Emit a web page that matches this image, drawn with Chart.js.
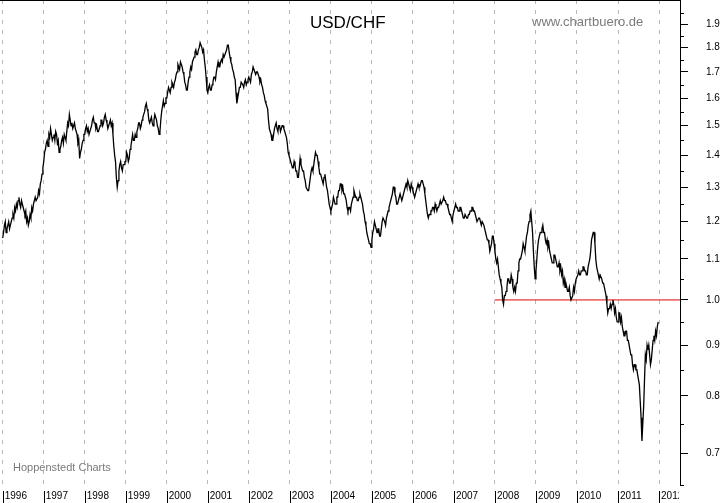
<!DOCTYPE html>
<html><head><meta charset="utf-8">
<script src="https://cdn.jsdelivr.net/npm/chart.js@4.4.1/dist/chart.umd.min.js"></script>
<style>html,body{margin:0;padding:0;background:#fff;}canvas{display:block;}</style>
</head><body>
<canvas id="c" width="723" height="503"></canvas>
<script>
// ---- texts ----
const chartTitle = 'USD/CHF';
const sourceText = 'www.chartbuero.de';
const footerText = 'Hoppenstedt Charts';

// ---- axis ticks ----
const yearTicks = [1996,1997,1998,1999,2000,2001,2002,2003,2004,2005,2006,2007,2008,2009,2010,2011,2012];
const yMajorTicks = [0.7,0.8,0.9,1.0,1.1,1.2,1.3,1.4,1.5,1.6,1.7,1.8,1.9];
const yMinorTicks = [0.65,0.75,0.85,0.95,1.05,1.15,1.25,1.35,1.45,1.55,1.65,1.75,1.85,1.95];

// ---- support line (horizontal at 1.0 from 2008) ----
const supportLevel = [1.0];
const supportFromYear = [2008.0];

// ---- USD/CHF, roughly weekly readings, spread evenly over each year ----
const y1996 = [1.155,1.17,1.19,1.20,1.17,1.18,1.19,1.20,1.18,1.19,1.20,1.21,1.22,1.21,1.24,1.23,1.25,1.24,1.26,1.27,1.25,1.24,1.26,1.25,1.24,1.23,1.22,1.23,1.20,1.21,1.19,1.20,1.22,1.21,1.24,1.23,1.25,1.26,1.27,1.26,1.26,1.27,1.29,1.28,1.31,1.32,1.34,1.36];
const y1997 = [1.38,1.41,1.42,1.44,1.45,1.43,1.47,1.46,1.49,1.47,1.45,1.46,1.47,1.45,1.48,1.47,1.44,1.45,1.41,1.42,1.43,1.45,1.46,1.44,1.47,1.46,1.45,1.48,1.51,1.50,1.54,1.52,1.50,1.51,1.49,1.50,1.51,1.49,1.48,1.47,1.44,1.45,1.39,1.41,1.42,1.44,1.45,1.47];
const y1998 = [1.47,1.49,1.50,1.48,1.49,1.47,1.47,1.49,1.50,1.52,1.53,1.51,1.51,1.49,1.50,1.48,1.48,1.49,1.50,1.52,1.52,1.50,1.51,1.53,1.54,1.52,1.51,1.49,1.50,1.51,1.52,1.50,1.51,1.47,1.43,1.40,1.38,1.33,1.30,1.32,1.35,1.37,1.38,1.36,1.35,1.37,1.37,1.38];
const y1999 = [1.38,1.41,1.40,1.38,1.39,1.42,1.43,1.45,1.47,1.45,1.45,1.47,1.46,1.48,1.49,1.51,1.51,1.49,1.50,1.52,1.53,1.54,1.55,1.57,1.58,1.56,1.55,1.52,1.51,1.52,1.53,1.51,1.50,1.52,1.54,1.53,1.52,1.50,1.49,1.47,1.48,1.52,1.55,1.57,1.59,1.57,1.58,1.60];
const y2000 = [1.60,1.62,1.64,1.63,1.62,1.64,1.66,1.65,1.64,1.66,1.67,1.69,1.70,1.73,1.72,1.71,1.74,1.73,1.72,1.70,1.69,1.66,1.65,1.63,1.63,1.66,1.68,1.70,1.72,1.71,1.74,1.75,1.76,1.78,1.79,1.77,1.77,1.79,1.80,1.82,1.82,1.80,1.78,1.79,1.75,1.72,1.68,1.63];
const y2001 = [1.62,1.64,1.65,1.63,1.63,1.65,1.66,1.68,1.68,1.67,1.70,1.72,1.74,1.72,1.72,1.74,1.75,1.74,1.77,1.76,1.76,1.78,1.79,1.81,1.81,1.78,1.76,1.74,1.73,1.71,1.70,1.68,1.67,1.62,1.58,1.60,1.62,1.64,1.64,1.66,1.66,1.65,1.64,1.66,1.67,1.65,1.66,1.67];
const y2002 = [1.68,1.67,1.66,1.69,1.70,1.72,1.72,1.70,1.69,1.70,1.70,1.69,1.68,1.66,1.67,1.65,1.64,1.62,1.61,1.59,1.58,1.57,1.56,1.52,1.49,1.48,1.47,1.45,1.45,1.47,1.49,1.50,1.51,1.49,1.48,1.50,1.50,1.48,1.49,1.50,1.50,1.49,1.48,1.47,1.46,1.44,1.41,1.40];
const y2003 = [1.39,1.38,1.37,1.36,1.36,1.38,1.37,1.35,1.35,1.33,1.33,1.36,1.39,1.37,1.36,1.35,1.35,1.33,1.32,1.30,1.30,1.29,1.29,1.31,1.33,1.35,1.36,1.35,1.37,1.39,1.41,1.40,1.40,1.38,1.36,1.34,1.34,1.33,1.32,1.31,1.33,1.34,1.32,1.30,1.29,1.27,1.25,1.24];
const y2004 = [1.23,1.24,1.25,1.27,1.26,1.25,1.25,1.27,1.27,1.29,1.29,1.31,1.31,1.29,1.30,1.28,1.28,1.27,1.26,1.24,1.23,1.24,1.24,1.23,1.25,1.26,1.27,1.29,1.28,1.27,1.27,1.26,1.26,1.27,1.28,1.27,1.26,1.25,1.23,1.22,1.20,1.19,1.17,1.16,1.15,1.14,1.14,1.13];
const y2005 = [1.15,1.17,1.18,1.20,1.19,1.18,1.17,1.18,1.18,1.16,1.16,1.18,1.20,1.21,1.21,1.20,1.19,1.21,1.22,1.23,1.24,1.25,1.26,1.27,1.28,1.30,1.30,1.28,1.27,1.25,1.25,1.26,1.27,1.28,1.28,1.26,1.27,1.28,1.29,1.30,1.31,1.30,1.32,1.31,1.30,1.29,1.31,1.30];
const y2006 = [1.29,1.28,1.27,1.28,1.29,1.30,1.31,1.30,1.30,1.31,1.32,1.32,1.31,1.30,1.28,1.26,1.24,1.22,1.21,1.22,1.22,1.23,1.23,1.24,1.24,1.23,1.25,1.24,1.23,1.24,1.24,1.25,1.26,1.25,1.25,1.26,1.27,1.26,1.26,1.25,1.25,1.24,1.23,1.22,1.22,1.21,1.20,1.22];
const y2007 = [1.22,1.24,1.25,1.24,1.24,1.23,1.23,1.24,1.24,1.23,1.22,1.21,1.21,1.22,1.22,1.21,1.21,1.22,1.22,1.23,1.23,1.24,1.24,1.23,1.23,1.22,1.21,1.20,1.20,1.21,1.21,1.20,1.19,1.20,1.20,1.19,1.18,1.17,1.16,1.15,1.15,1.14,1.12,1.13,1.14,1.16,1.16,1.14];
const y2008 = [1.12,1.10,1.09,1.10,1.08,1.06,1.05,1.04,1.03,1.00,0.99,1.01,1.01,1.02,1.03,1.05,1.05,1.04,1.04,1.06,1.05,1.03,1.02,1.03,1.02,1.04,1.04,1.07,1.09,1.10,1.10,1.11,1.12,1.14,1.13,1.12,1.14,1.16,1.17,1.19,1.20,1.22,1.23,1.20,1.17,1.12,1.08,1.05];
const y2009 = [1.07,1.10,1.13,1.15,1.16,1.17,1.17,1.18,1.19,1.17,1.17,1.15,1.14,1.15,1.13,1.14,1.12,1.11,1.10,1.09,1.09,1.11,1.11,1.10,1.09,1.08,1.08,1.09,1.07,1.08,1.06,1.07,1.04,1.05,1.03,1.04,1.03,1.02,1.02,1.03,1.01,1.00,1.00,1.01,1.03,1.02,1.04,1.05];
const y2010 = [1.05,1.06,1.07,1.06,1.06,1.07,1.07,1.08,1.08,1.07,1.07,1.06,1.06,1.08,1.08,1.10,1.12,1.15,1.16,1.17,1.17,1.14,1.10,1.08,1.07,1.06,1.05,1.06,1.06,1.05,1.04,1.04,1.03,1.02,1.01,0.99,0.97,0.98,0.98,0.99,0.98,0.99,1.00,0.99,0.97,0.98,0.96,0.95];
const y2011 = [0.95,0.97,0.97,0.95,0.96,0.94,0.93,0.92,0.92,0.93,0.93,0.91,0.91,0.90,0.90,0.88,0.88,0.86,0.85,0.86,0.86,0.85,0.85,0.84,0.83,0.82,0.79,0.76,0.72,0.75,0.78,0.83,0.88,0.87,0.90,0.89,0.90,0.88,0.86,0.87,0.89,0.91,0.92,0.91,0.93,0.92,0.94,0.95];

const seriesYears = [1996,1997,1998,1999,2000,2001,2002,2003,2004,2005,2006,2007,2008,2009,2010,2011];
const seriesValues = [y1996,y1997,y1998,y1999,y2000,y2001,y2002,y2003,y2004,y2005,y2006,y2007,y2008,y2009,y2010,y2011];

// ---- build library data ----
const pricePoints = [];
seriesYears.forEach((yr, i) => {
  const arr = seriesValues[i];
  arr.forEach((v, k) => pricePoints.push({ x: yr + k / arr.length, y: v }));
});

const X_MIN = 1995.934, X_MAX = 2012.511;
const Y_MIN = 0.65, Y_MAX = 2.01;
const supportPoints = [{ x: supportFromYear[0], y: supportLevel[0] }, { x: X_MAX, y: supportLevel[0] }];

const isMajor = v => yMajorTicks.some(m => Math.abs(m - v) < 1e-9);
const FONT = '"Liberation Sans", Arial, Helvetica, sans-serif';

const decor = {
  id: 'decor',
  afterDraw(chart) {
    const { ctx, chartArea: a, scales: { x, y } } = chart;
    ctx.save();
    // clip the x label that runs past the right axis
    ctx.fillStyle = '#fff';
    ctx.fillRect(a.right - 1, a.bottom + 3, chart.width - a.right + 1, chart.height - a.bottom);
    ctx.strokeStyle = '#000';
    ctx.lineWidth = 1;
    // minor ticks on the right axis
    yMinorTicks.forEach(v => {
      const py = Math.round(y.getPixelForValue(v)) + 0.5;
      ctx.beginPath(); ctx.moveTo(a.right, py); ctx.lineTo(a.right + 4, py); ctx.stroke();
    });
    // separators in the year row
    yearTicks.forEach(v => {
      const px = Math.round(x.getPixelForValue(v)) + 0.5;
      ctx.beginPath(); ctx.moveTo(px, a.bottom + 6); ctx.lineTo(px, chart.height); ctx.stroke();
    });
    // top frame line
    ctx.beginPath(); ctx.moveTo(a.left, a.top + 0.5); ctx.lineTo(a.right, a.top + 0.5); ctx.stroke();
    // texts
    ctx.textBaseline = 'middle';
    ctx.textAlign = 'left';
    ctx.fillStyle = '#000';
    ctx.font = '17px ' + FONT;
    ctx.fillText(chartTitle, 310, 23);
    ctx.fillStyle = '#7a7a7a';
    ctx.font = '13px ' + FONT;
    ctx.fillText(sourceText, 532, 22);
    ctx.font = '11px ' + FONT;
    ctx.fillText(footerText, 13, 468);
    ctx.restore();
  }
};

new Chart(document.getElementById('c'), {
  type: 'line',
  data: {
    datasets: [
      { data: pricePoints, borderColor: '#000', borderWidth: 1.3, pointRadius: 0, tension: 0, fill: false },
      { data: supportPoints, borderColor: '#e00000', borderWidth: 1, pointRadius: 0, fill: false }
    ]
  },
  options: {
    responsive: false,
    animation: false,
    devicePixelRatio: 1,
    layout: { padding: 0 },
    plugins: { legend: { display: false }, tooltip: { enabled: false }, title: { display: false } },
    scales: {
      x: {
        type: 'linear', position: 'bottom', min: X_MIN, max: X_MAX,
        afterBuildTicks: s => { s.ticks = yearTicks.map(v => ({ value: v })); },
        afterFit: s => { s.height = 18; s.paddingLeft = 0; s.paddingRight = 0; },
        grid: { color: '#b8b8b8', lineWidth: 1, drawTicks: false, drawOnChartArea: true },
        border: { display: false, dash: [4, 6] },
        ticks: {
          autoSkip: false, maxRotation: 0, minRotation: 0, align: 'start', labelOffset: 2, padding: 5,
          color: '#000', font: { family: FONT, size: 10 },
          callback: v => String(v)
        }
      },
      y: {
        type: 'logarithmic', position: 'right', min: Y_MIN, max: Y_MAX,
        afterBuildTicks: s => { s.ticks = yMinorTicks.concat(yMajorTicks).sort((p, q) => p - q).map(v => ({ value: v })); },
        afterFit: s => { s.width = 43; s.paddingTop = 0; s.paddingBottom = 0; },
        grid: {
          drawOnChartArea: false, drawTicks: true, tickLength: 8,
          color: c => (c.tick && isMajor(c.tick.value)) ? '#000' : 'rgba(0,0,0,0)'
        },
        border: { display: true, color: '#000', width: 1 },
        ticks: {
          padding: 18, color: '#000', font: { family: FONT, size: 10 },
          callback: v => isMajor(v) ? v.toFixed(1) : ''
        }
      }
    }
  },
  plugins: [decor]
});
</script>
</body></html>
